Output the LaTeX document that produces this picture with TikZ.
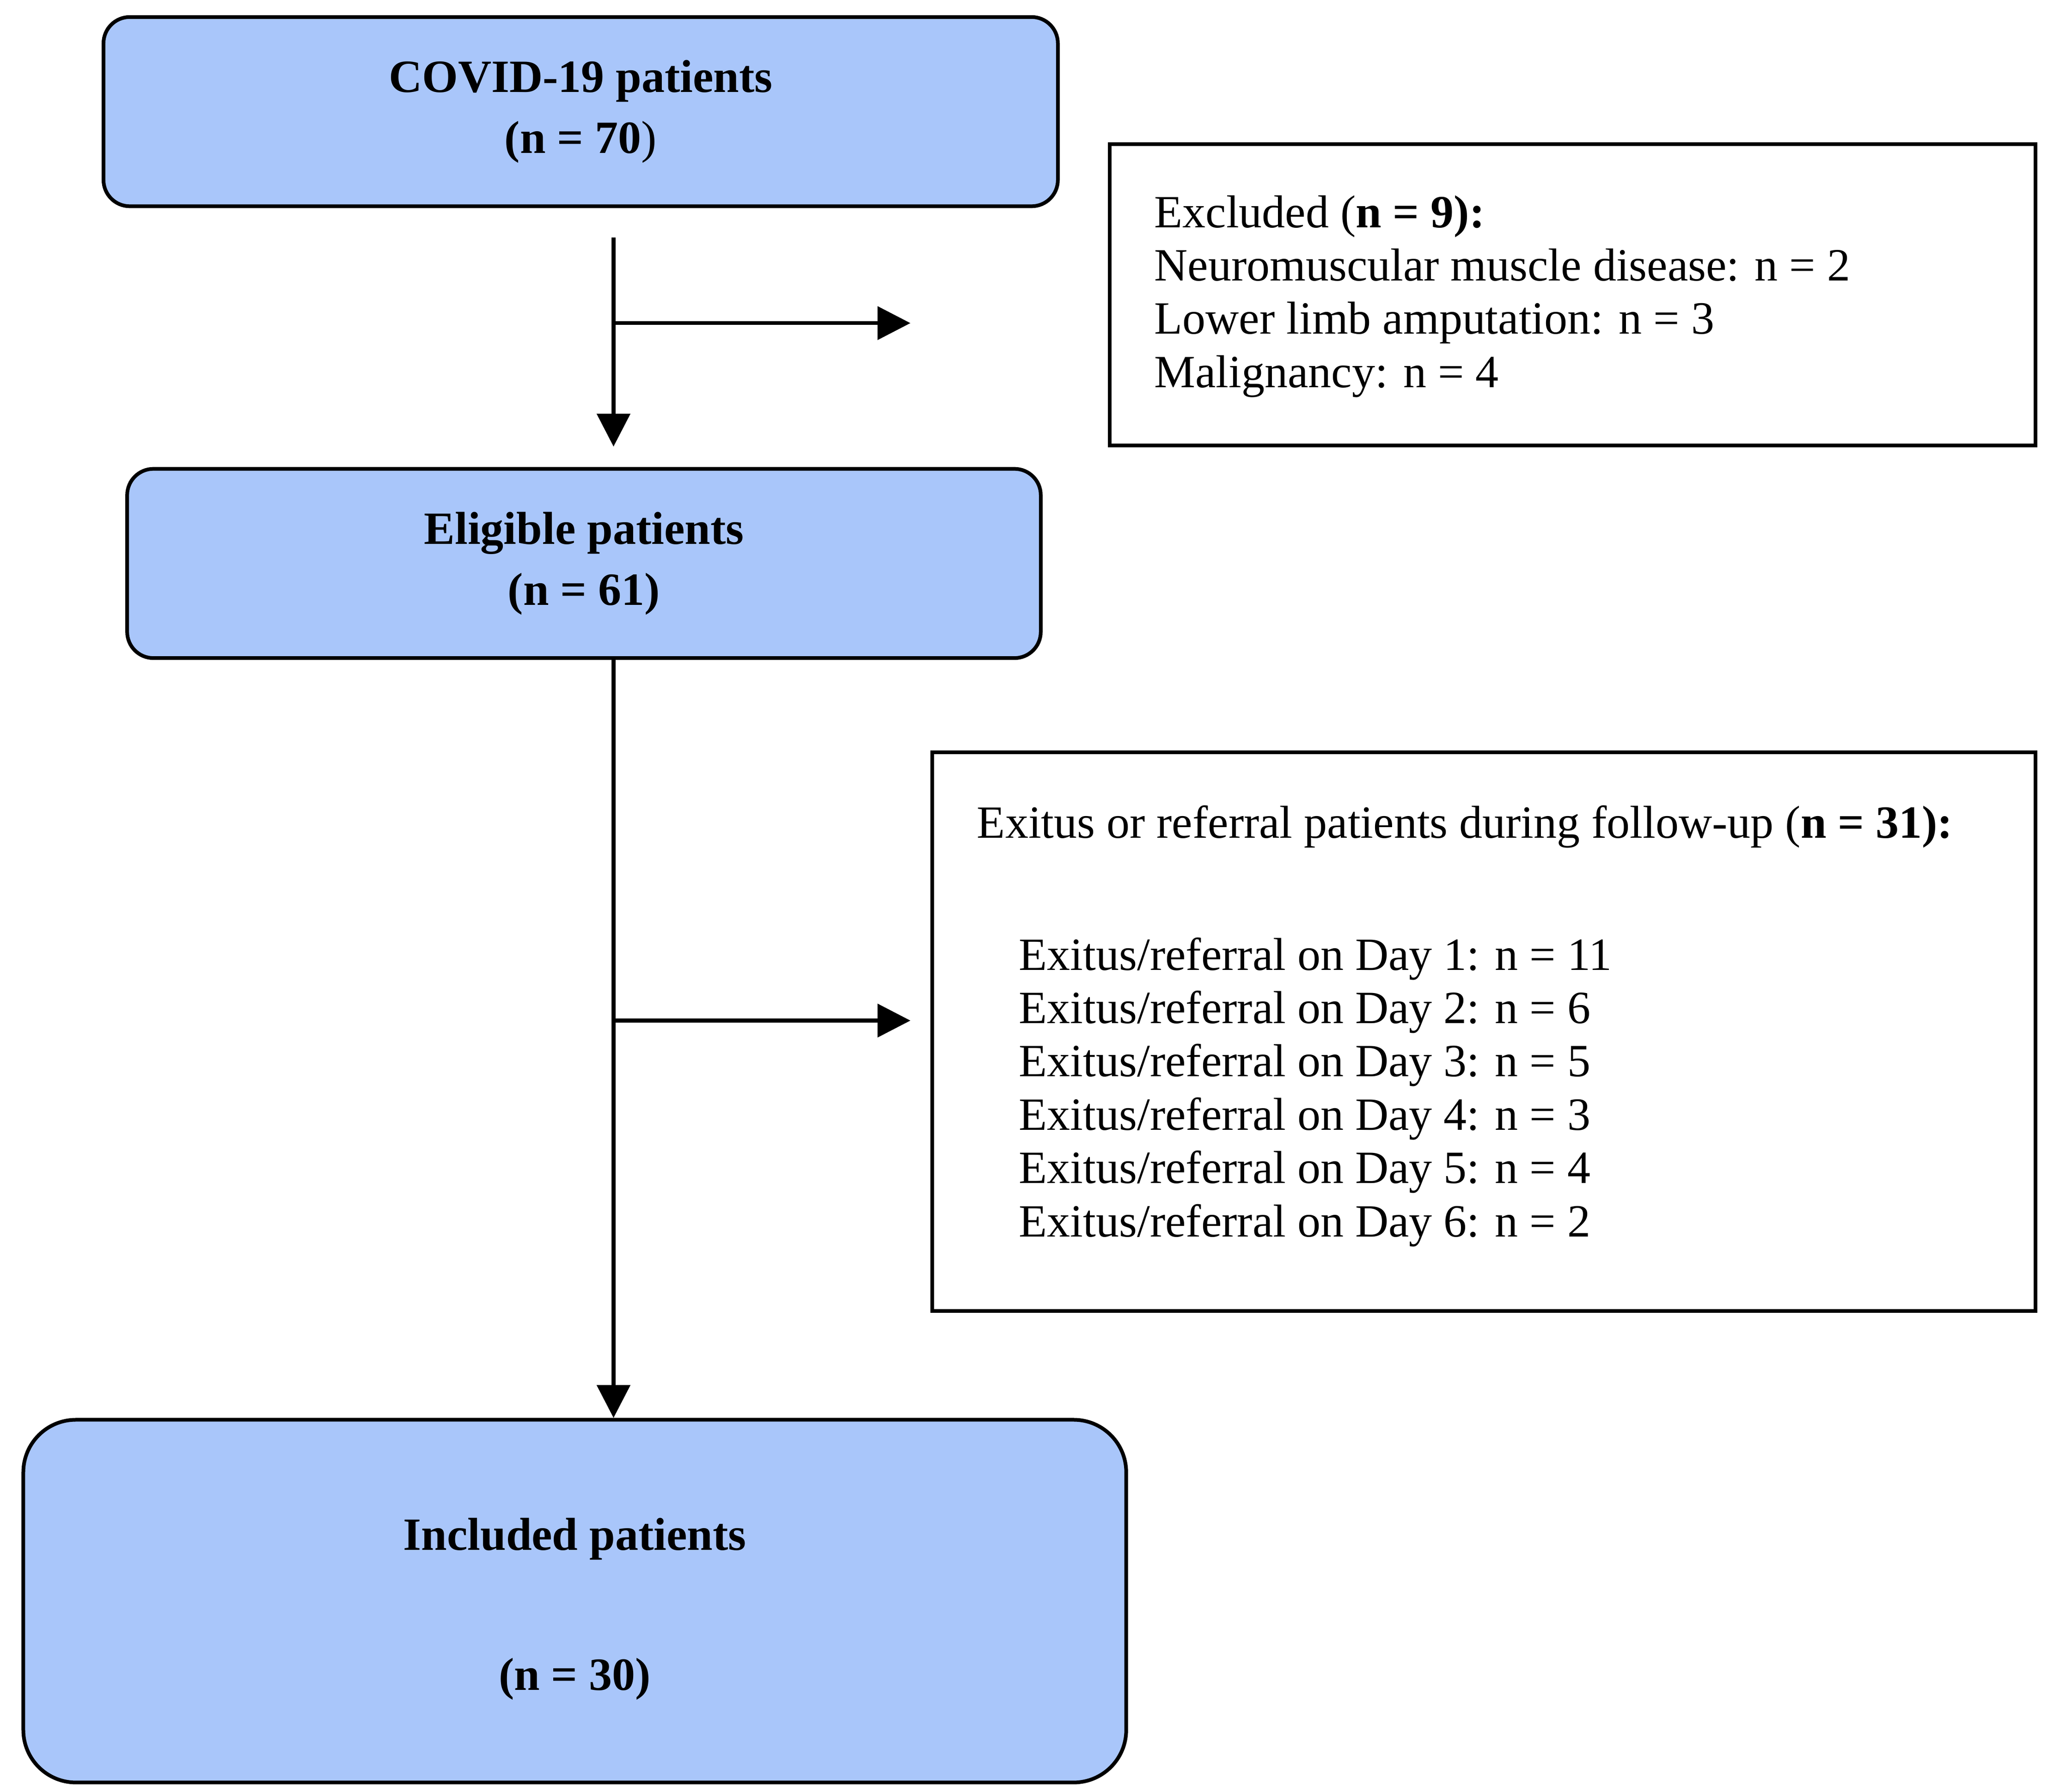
\documentclass[tikz,border=0pt]{standalone}
\usepackage{fontspec}
\setmainfont{Liberation Serif}
\usetikzlibrary{arrows.meta}
\definecolor{boxblue}{HTML}{A9C6FA}
\begin{document}
\begin{tikzpicture}[x=0.01cm,y=-0.01cm,
    font=\fontsize{10}{11.55}\selectfont,
    bluebox/.style={draw,line width=0.8pt,fill=boxblue,rounded corners=0.2cm,inner sep=0pt,align=center,font=\fontsize{10}{13.2}\selectfont\bfseries},
    whitebox/.style={draw,line width=0.8pt,inner sep=0pt},
    flow/.style={line width=0.85pt,-{Triangle[length=0.25cm,width=0.25cm]}}]
    \useasboundingbox (0,0) rectangle (1568,1364);
    \node [bluebox,minimum width=7.26cm,minimum height=1.44cm] (covid) at (442,85) {COVID-19 patients\\(n = 70\textmd{)}};
    \node [whitebox,minimum width=7.04cm,minimum height=2.29cm] (excl) at (1197,224.5) {};
    \node [anchor=north west,align=left,inner sep=0pt] (excltext) at (878,148) {Excluded (\textbf{n = 9):}\\Neuromuscular muscle disease: n = 2\\Lower limb amputation: n = 3\\Malignancy: n = 4};
    \node [bluebox,minimum width=6.95cm,minimum height=1.44cm] (elig) at (444.5,429) {Eligible patients\\(n = 61)};
    \node [whitebox,minimum width=8.39cm,minimum height=4.25cm] (exit) at (1129.5,785.5) {};
    \node [anchor=base west,inner sep=0pt] (exithead) at (743,638) {Exitus or referral patients during follow-up (\textbf{n = 31):}};
    \node [anchor=north west,align=left,inner sep=0pt] (days) at (775,713) {Exitus/referral on Day 1: n = 11\\Exitus/referral on Day 2: n = 6\\Exitus/referral on Day 3: n = 5\\Exitus/referral on Day 4: n = 3\\Exitus/referral on Day 5: n = 4\\Exitus/referral on Day 6: n = 2};
    \node [bluebox,rounded corners=0.4cm,minimum width=8.39cm,minimum height=2.76cm] (incl) at (437.5,1219) {\\[-0.1cm]Included patients\\[0.6cm](n = 30)};
    % connectors
    \coordinate (top) at (467,181);
    \coordinate (b1) at (467,246);
    \coordinate (e1) at (693,246);
    \coordinate (b2) at (467,777);
    \coordinate (e2) at (693,777);
    \draw [flow] (top) -- (467,340);
    \draw [flow] (b1) -- (e1);
    \draw [flow] (elig.south -| top) -- (incl.north -| top);
    \draw [flow] (b2) -- (e2);
\end{tikzpicture}
\end{document}
